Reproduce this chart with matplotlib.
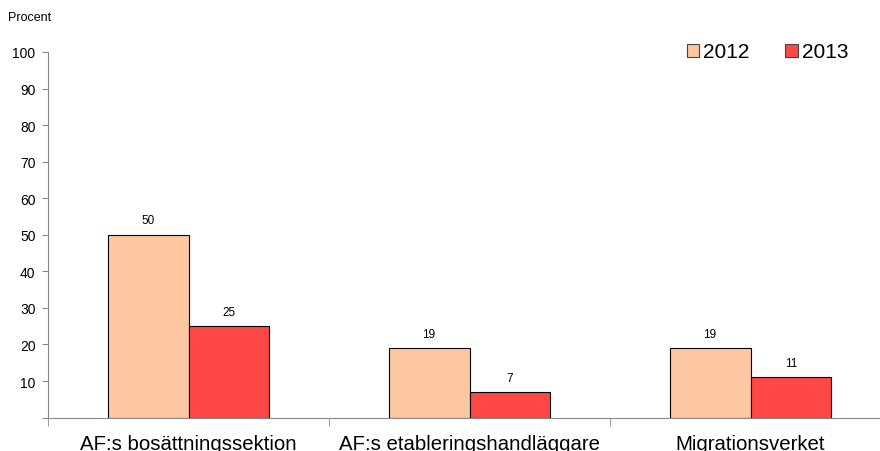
import numpy as np
import matplotlib.pyplot as plt
from matplotlib.ticker import FixedLocator

plt.rcParams['font.family'] = ['Liberation Sans', 'DejaVu Sans']

categories = ['AF:s bosättningssektion', 'AF:s etableringshandläggare', 'Migrationsverket']
years = ['2012', '2013']
values_2012 = [50, 19, 19]
values_2013 = [25, 7, 11]
colors = ['#FDC7A1', '#FF4747']


def main():
    fig = plt.figure(figsize=(8.8, 4.52), dpi=100)
    ax = fig.add_axes([48 / 880, 33.4 / 452, 843 / 880, 365.6 / 452])

    x = np.arange(len(categories))
    w = 0.288
    for i, (vals, col, lab) in enumerate(zip([values_2012, values_2013], colors, years)):
        bars = ax.bar(x + (i - 0.5) * w, vals, w, color=col, edgecolor='black',
                      linewidth=0.8, label=lab)
        for b, v in zip(bars, vals):
            ax.annotate(str(v), (b.get_x() + b.get_width() / 2, v), xytext=(0, 6),
                        textcoords='offset points', ha='center', va='bottom', fontsize=8.5)

    ax.set_xlim(-0.5, 2.5)
    ax.set_ylim(0, 100)
    ax.set_yticks(np.arange(0, 101, 10))
    ax.set_yticklabels([''] + [str(v) for v in range(10, 101, 10)])
    ax.set_xticks(x)
    ax.set_xticklabels(categories, fontsize=14.7)
    ax.xaxis.set_minor_locator(FixedLocator([-0.5, 0.5, 1.5, 2.5]))
    ax.tick_params(axis='x', which='major', length=0, pad=12)
    ax.tick_params(axis='x', which='minor', length=6, color='#888888')
    ax.tick_params(axis='y', length=4, color='#888888', labelsize=10, pad=5)

    for s in ['top', 'right']:
        ax.spines[s].set_visible(False)
    for s in ['left', 'bottom']:
        ax.spines[s].set_color('#888888')

    fig.text(8 / 880, 1 - 18 / 452, 'Procent', fontsize=9, va='center', ha='left')

    leg = ax.legend(loc='center left', bbox_to_anchor=(668 / 880, 1 - 53 / 452),
                    bbox_transform=fig.transFigure, ncol=2, frameon=False,
                    fontsize=15, handlelength=0.6, handleheight=0.6,
                    handletextpad=0.2, columnspacing=1.7)
    for h in leg.legend_handles:
        h.set_edgecolor('#444444')

    fig.savefig('out.png', dpi=100)


if __name__ == "__main__":
    main()
